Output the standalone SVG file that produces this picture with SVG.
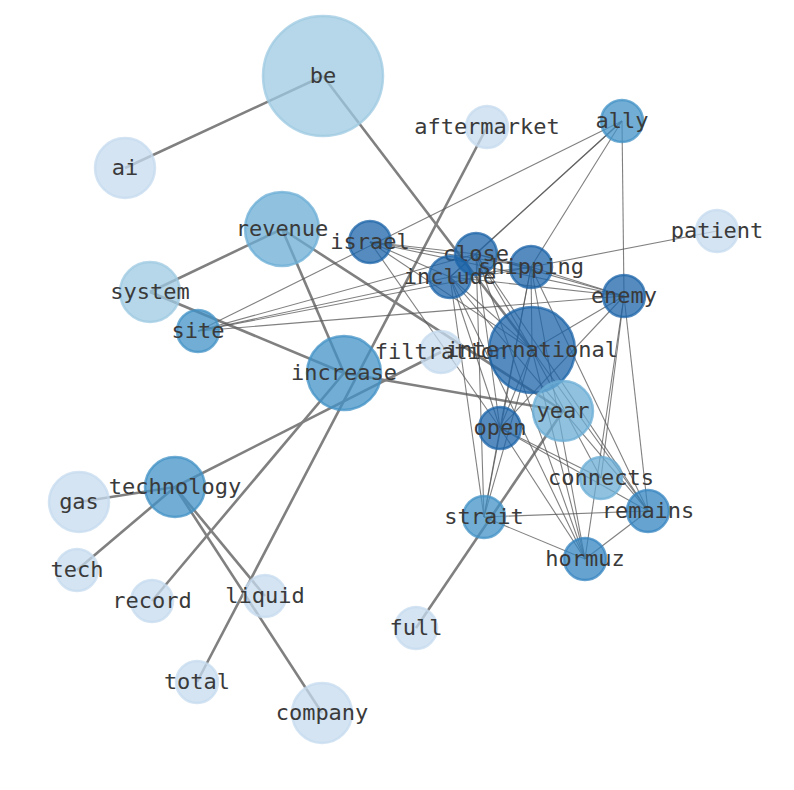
<svg xmlns="http://www.w3.org/2000/svg" width="794" height="790" viewBox="0 0 794 790">
<style>
.thick{stroke:#808080;stroke-width:2.6;fill:none}
.thin{stroke:#555;stroke-width:1.1;stroke-opacity:0.75;fill:none}
.n circle{fill-opacity:0.75;stroke-opacity:0.75;stroke-width:2.5}
.c1 circle{fill:#c6dbef;stroke:#c6dbef}
.c2 circle{fill:#9ecae1;stroke:#9ecae1}
.c3 circle{fill:#6baed6;stroke:#6baed6}
.c4 circle{fill:#4292c6;stroke:#4292c6}
.c5 circle{fill:#3484c0;stroke:#3484c0}
.c6 circle{fill:#1c64a8;stroke:#1c64a8}
text{font-family:"DejaVu Sans Mono","Liberation Mono",monospace;font-size:22px;fill:#3a3a3a;text-anchor:middle}
</style>
<rect width="794" height="790" fill="#fff"/>
<g id="connectors">
<line class="thick" x1="323" y1="76" x2="125" y2="168"/>
<line class="thick" x1="323" y1="76" x2="532" y2="350"/>
<line class="thick" x1="487" y1="127" x2="197" y2="682"/>
<line class="thick" x1="282" y1="229" x2="150" y2="292"/>
<line class="thick" x1="282" y1="229" x2="344" y2="373"/>
<line class="thick" x1="282" y1="229" x2="563" y2="411"/>
<line class="thick" x1="150" y1="292" x2="344" y2="373"/>
<line class="thick" x1="344" y1="373" x2="563" y2="411"/>
<line class="thick" x1="344" y1="373" x2="152" y2="601"/>
<line class="thick" x1="175" y1="487" x2="441" y2="352"/>
<line class="thick" x1="175" y1="487" x2="79" y2="502"/>
<line class="thick" x1="175" y1="487" x2="77" y2="570"/>
<line class="thick" x1="175" y1="487" x2="265" y2="596"/>
<line class="thick" x1="175" y1="487" x2="322" y2="713"/>
<line class="thick" x1="563" y1="411" x2="416" y2="628"/>
<line class="thin" x1="370" y1="242" x2="476" y2="254"/>
<line class="thin" x1="370" y1="242" x2="450" y2="277"/>
<line class="thin" x1="370" y1="242" x2="531" y2="267"/>
<line class="thin" x1="370" y1="242" x2="624" y2="296"/>
<line class="thin" x1="370" y1="242" x2="532" y2="350"/>
<line class="thin" x1="370" y1="242" x2="500" y2="428"/>
<line class="thin" x1="476" y1="254" x2="450" y2="277"/>
<line class="thin" x1="476" y1="254" x2="531" y2="267"/>
<line class="thin" x1="476" y1="254" x2="624" y2="296"/>
<line class="thin" x1="476" y1="254" x2="532" y2="350"/>
<line class="thin" x1="476" y1="254" x2="500" y2="428"/>
<line class="thin" x1="450" y1="277" x2="531" y2="267"/>
<line class="thin" x1="450" y1="277" x2="624" y2="296"/>
<line class="thin" x1="450" y1="277" x2="532" y2="350"/>
<line class="thin" x1="450" y1="277" x2="500" y2="428"/>
<line class="thin" x1="531" y1="267" x2="624" y2="296"/>
<line class="thin" x1="531" y1="267" x2="532" y2="350"/>
<line class="thin" x1="531" y1="267" x2="500" y2="428"/>
<line class="thin" x1="624" y1="296" x2="532" y2="350"/>
<line class="thin" x1="624" y1="296" x2="500" y2="428"/>
<line class="thin" x1="532" y1="350" x2="500" y2="428"/>
<line class="thin" x1="622" y1="121" x2="198" y2="331"/>
<line class="thin" x1="622" y1="121" x2="476" y2="254"/>
<line class="thin" x1="622" y1="121" x2="450" y2="277"/>
<line class="thin" x1="622" y1="121" x2="531" y2="267"/>
<line class="thin" x1="622" y1="121" x2="624" y2="296"/>
<line class="thin" x1="198" y1="331" x2="476" y2="254"/>
<line class="thin" x1="198" y1="331" x2="450" y2="277"/>
<line class="thin" x1="198" y1="331" x2="531" y2="267"/>
<line class="thin" x1="198" y1="331" x2="624" y2="296"/>
<line class="thin" x1="717" y1="231" x2="531" y2="267"/>
<line class="thin" x1="484" y1="517" x2="476" y2="254"/>
<line class="thin" x1="484" y1="517" x2="450" y2="277"/>
<line class="thin" x1="484" y1="517" x2="531" y2="267"/>
<line class="thin" x1="484" y1="517" x2="532" y2="350"/>
<line class="thin" x1="484" y1="517" x2="500" y2="428"/>
<line class="thin" x1="484" y1="517" x2="648" y2="511"/>
<line class="thin" x1="484" y1="517" x2="585" y2="559"/>
<line class="thin" x1="585" y1="559" x2="476" y2="254"/>
<line class="thin" x1="585" y1="559" x2="450" y2="277"/>
<line class="thin" x1="585" y1="559" x2="531" y2="267"/>
<line class="thin" x1="585" y1="559" x2="532" y2="350"/>
<line class="thin" x1="585" y1="559" x2="500" y2="428"/>
<line class="thin" x1="585" y1="559" x2="648" y2="511"/>
<line class="thin" x1="585" y1="559" x2="624" y2="296"/>
<line class="thin" x1="648" y1="511" x2="476" y2="254"/>
<line class="thin" x1="648" y1="511" x2="450" y2="277"/>
<line class="thin" x1="648" y1="511" x2="531" y2="267"/>
<line class="thin" x1="648" y1="511" x2="532" y2="350"/>
<line class="thin" x1="648" y1="511" x2="624" y2="296"/>
<line class="thin" x1="648" y1="511" x2="500" y2="428"/>
<line class="thin" x1="601" y1="478" x2="624" y2="296"/>
<line class="thin" x1="601" y1="478" x2="500" y2="428"/>
<line class="thin" x1="601" y1="478" x2="532" y2="350"/>
</g>
<g id="node-be" class="n c2"><circle cx="323" cy="76" r="60"/><text x="323" y="83">be</text></g>
<g id="node-ai" class="n c1"><circle cx="125" cy="168" r="30"/><text x="125" y="175">ai</text></g>
<g id="node-aftermarket" class="n c1"><circle cx="487" cy="127" r="21"/><text x="487" y="134">aftermarket</text></g>
<g id="node-ally" class="n c4"><circle cx="622" cy="121" r="21"/><text x="622" y="128">ally</text></g>
<g id="node-patient" class="n c1"><circle cx="717" cy="231" r="21"/><text x="717" y="238">patient</text></g>
<g id="node-revenue" class="n c3"><circle cx="282" cy="229" r="37"/><text x="282" y="236">revenue</text></g>
<g id="node-israel" class="n c6"><circle cx="370" cy="242" r="21"/><text x="370" y="249">israel</text></g>
<g id="node-close" class="n c6"><circle cx="476" cy="254" r="21"/><text x="476" y="261">close</text></g>
<g id="node-include" class="n c6"><circle cx="450" cy="277" r="21"/><text x="450" y="284">include</text></g>
<g id="node-shipping" class="n c6"><circle cx="531" cy="267" r="21"/><text x="531" y="274">shipping</text></g>
<g id="node-enemy" class="n c6"><circle cx="624" cy="296" r="21"/><text x="624" y="303">enemy</text></g>
<g id="node-system" class="n c2"><circle cx="150" cy="292" r="30"/><text x="150" y="299">system</text></g>
<g id="node-site" class="n c4"><circle cx="198" cy="331" r="21"/><text x="198" y="338">site</text></g>
<g id="node-filtration" class="n c1"><circle cx="441" cy="352" r="21"/><text x="441" y="359">filtration</text></g>
<g id="node-international" class="n c6"><circle cx="532" cy="350" r="43"/><text x="532" y="357">international</text></g>
<g id="node-increase" class="n c4"><circle cx="344" cy="373" r="37"/><text x="344" y="380">increase</text></g>
<g id="node-year" class="n c3"><circle cx="563" cy="411" r="30"/><text x="563" y="418">year</text></g>
<g id="node-open" class="n c6"><circle cx="500" cy="428" r="21"/><text x="500" y="435">open</text></g>
<g id="node-connects" class="n c3"><circle cx="601" cy="478" r="21"/><text x="601" y="485">connects</text></g>
<g id="node-technology" class="n c4"><circle cx="175" cy="487" r="30"/><text x="175" y="494">technology</text></g>
<g id="node-gas" class="n c1"><circle cx="79" cy="502" r="30"/><text x="79" y="509">gas</text></g>
<g id="node-strait" class="n c4"><circle cx="484" cy="517" r="21"/><text x="484" y="524">strait</text></g>
<g id="node-remains" class="n c5"><circle cx="648" cy="511" r="21"/><text x="648" y="518">remains</text></g>
<g id="node-hormuz" class="n c5"><circle cx="585" cy="559" r="21"/><text x="585" y="566">hormuz</text></g>
<g id="node-tech" class="n c1"><circle cx="77" cy="570" r="21"/><text x="77" y="577">tech</text></g>
<g id="node-record" class="n c1"><circle cx="152" cy="601" r="21"/><text x="152" y="608">record</text></g>
<g id="node-liquid" class="n c1"><circle cx="265" cy="596" r="21"/><text x="265" y="603">liquid</text></g>
<g id="node-full" class="n c1"><circle cx="416" cy="628" r="21"/><text x="416" y="635">full</text></g>
<g id="node-total" class="n c1"><circle cx="197" cy="682" r="21"/><text x="197" y="689">total</text></g>
<g id="node-company" class="n c1"><circle cx="322" cy="713" r="30"/><text x="322" y="720">company</text></g>
</svg>
